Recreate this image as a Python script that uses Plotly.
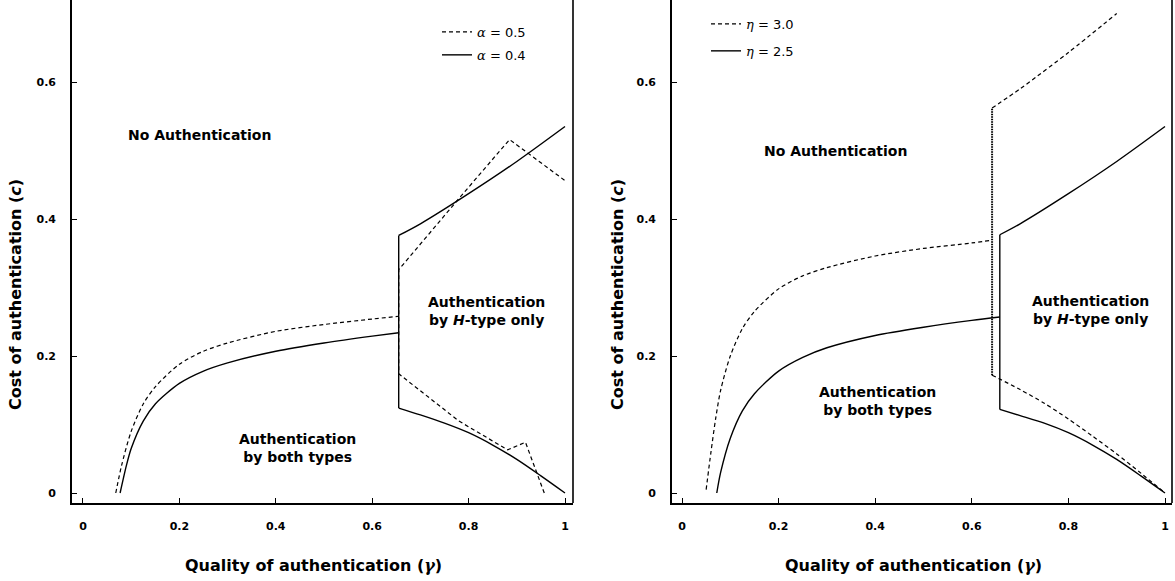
import plotly.graph_objects as go

# ---------------- data ----------------
# Left panel: threshold curves for two values of alpha
a05_low_gamma = [0.068, 0.08, 0.10, 0.125, 0.15, 0.20, 0.25, 0.30, 0.40, 0.50, 0.60, 0.655]
a05_low_cost = [0.0, 0.04, 0.09, 0.13, 0.155, 0.188, 0.207, 0.219, 0.236, 0.246, 0.254, 0.258]
a05_branch_gamma = [0.957, 0.918, 0.881, 0.78, 0.655, 0.655, 0.78, 0.885, 1.0]
a05_branch_cost = [0.0, 0.074, 0.063, 0.105, 0.174, 0.326, 0.430, 0.516, 0.456]

a04_low_gamma = [0.077, 0.09, 0.10, 0.125, 0.15, 0.20, 0.25, 0.30, 0.40, 0.50, 0.60, 0.655]
a04_low_cost = [0.0, 0.04, 0.065, 0.105, 0.13, 0.16, 0.178, 0.19, 0.207, 0.219, 0.229, 0.234]
a04_lower_gamma = [0.655, 0.70, 0.75, 0.80, 0.85, 0.90, 0.95, 1.0]
a04_lower_cost = [0.124, 0.114, 0.102, 0.088, 0.070, 0.049, 0.025, 0.0]
a04_upper_gamma = [0.655, 0.70, 0.80, 0.90, 1.0]
a04_upper_cost = [0.376, 0.393, 0.437, 0.484, 0.535]

# Right panel: threshold curves for two values of eta
e30_low_gamma = [0.05, 0.06, 0.07, 0.08, 0.10, 0.125, 0.15, 0.20, 0.25, 0.30, 0.40, 0.50, 0.60, 0.642]
e30_low_cost = [0.005, 0.06, 0.11, 0.15, 0.20, 0.24, 0.265, 0.298, 0.317, 0.329, 0.346, 0.357, 0.365, 0.369]
e30_lower_gamma = [0.642, 0.70, 0.75, 0.80, 0.85, 0.90, 0.95, 1.0]
e30_lower_cost = [0.172, 0.151, 0.131, 0.108, 0.083, 0.057, 0.029, 0.0]
e30_upper_gamma = [0.642, 0.70, 0.725, 0.80, 0.90]
e30_upper_cost = [0.562, 0.590, 0.603, 0.643, 0.700]
e30_switch_gamma = [0.642, 0.642]
e30_switch_cost = [0.172, 0.562]

e25_low_gamma = [0.072, 0.08, 0.10, 0.125, 0.15, 0.20, 0.25, 0.30, 0.40, 0.50, 0.60, 0.658]
e25_low_cost = [0.0, 0.03, 0.08, 0.12, 0.145, 0.178, 0.198, 0.212, 0.230, 0.242, 0.252, 0.257]
e25_lower_gamma = [0.658, 0.70, 0.75, 0.80, 0.85, 0.90, 0.95, 1.0]
e25_lower_cost = [0.122, 0.113, 0.102, 0.088, 0.070, 0.049, 0.025, 0.0]
e25_upper_gamma = [0.658, 0.70, 0.80, 0.90, 1.0]
e25_upper_cost = [0.377, 0.393, 0.437, 0.484, 0.535]

tick_vals_x = [0, 0.2, 0.4, 0.6, 0.8, 1]
tick_text_x = ["0", "0.2", "0.4", "0.6", "0.8", "1"]
tick_vals_y = [0, 0.2, 0.4, 0.6]
tick_text_y = ["0", "0.2", "0.4", "0.6"]

BLACK = "#000000"
DASH = "4px,3px"
SOLID_W = 1.4
DASH_W = 1.2

fig = go.Figure()


def add_series(segments, name, group, legend, axes, line):
    """segments: list of (gamma, cost, smooth) tuples drawn as one legend entry."""
    for i, (gx, cy, smooth) in enumerate(segments):
        fig.add_trace(go.Scatter(
            x=gx, y=cy, mode="lines", name=name,
            showlegend=(i == 0), legend=legend, legendgroup=group,
            line=dict(color=BLACK, shape="spline" if smooth else "linear",
                      smoothing=0.8, **line),
            xaxis=axes[0], yaxis=axes[1], hoverinfo="skip"))


def greek(sym, value):
    return ("<span style='font-family:DejaVu Serif'><i>%s</i></span> = %s"
            % (sym, value))


# ---- left panel ----
add_series([(a05_low_gamma, a05_low_cost, True),
            (a05_branch_gamma, a05_branch_cost, False)],
           greek("α", "0.5"), "a05", "legend", ("x", "y"),
           dict(width=DASH_W, dash=DASH))
add_series([(a04_low_gamma, a04_low_cost, True),
            (a04_lower_gamma, a04_lower_cost, True),
            ([a04_lower_gamma[0], a04_upper_gamma[0]],
             [a04_lower_cost[0], a04_upper_cost[0]], False),
            (a04_upper_gamma, a04_upper_cost, True)],
           greek("α", "0.4"), "a04", "legend", ("x", "y"),
           dict(width=SOLID_W))

# ---- right panel ----
add_series([(e30_low_gamma, e30_low_cost, True),
            (e30_lower_gamma, e30_lower_cost, True),
            (e30_upper_gamma, e30_upper_cost, True)],
           greek("η", "3.0"), "e30", "legend2", ("x2", "y2"),
           dict(width=DASH_W, dash=DASH))
fig.add_trace(go.Scatter(x=e30_switch_gamma, y=e30_switch_cost, mode="lines",
                         showlegend=False, legendgroup="e30", legend="legend2",
                         line=dict(color=BLACK, width=2, dash="1.5px,1px"),
                         xaxis="x2", yaxis="y2", hoverinfo="skip"))
add_series([(e25_low_gamma, e25_low_cost, True),
            (e25_lower_gamma, e25_lower_cost, True),
            ([e25_lower_gamma[0], e25_upper_gamma[0]],
             [e25_lower_cost[0], e25_upper_cost[0]], False),
            (e25_upper_gamma, e25_upper_cost, True)],
           greek("η", "2.5"), "e25", "legend2", ("x2", "y2"),
           dict(width=SOLID_W))

FONT = "DejaVu Sans"
TICK_FONT = dict(family=FONT, size=11, color=BLACK, weight="bold")


def xaxis_cfg(domain, anchor, rng):
    return dict(domain=domain, anchor=anchor, range=rng,
                tickvals=tick_vals_x, ticktext=tick_text_x,
                ticks="inside", ticklen=5, tickwidth=1, tickcolor=BLACK,
                showline=True, linecolor=BLACK, linewidth=1.6,
                showgrid=False, zeroline=False, tickfont=TICK_FONT,
                ticklabelstandoff=12, fixedrange=True)


def yaxis_cfg(anchor, rng):
    return dict(domain=[0, 1], anchor=anchor, range=rng,
                tickvals=tick_vals_y, ticktext=tick_text_y,
                ticks="inside", ticklen=5, tickwidth=1, tickcolor=BLACK,
                showline=True, linecolor=BLACK, linewidth=1.6,
                showgrid=False, zeroline=False, tickfont=TICK_FONT,
                ticklabelstandoff=12, fixedrange=True)


W, H = 1175, 581
LEGEND_FONT = dict(family=FONT, size=13, color=BLACK)
fig.update_layout(
    width=W, height=H,
    margin=dict(l=0, r=0, t=0, b=78),
    paper_bgcolor="white", plot_bgcolor="white",
    xaxis=xaxis_cfg([72 / W, 573 / W], "y", [-0.0228, 1.0166]),
    yaxis=yaxis_cfg("x", [-0.0146, 0.7197]),
    xaxis2=xaxis_cfg([672 / W, 1172 / W], "y2", [-0.0207, 1.0145]),
    yaxis2=yaxis_cfg("x2", [-0.0146, 0.7197]),
    legend=dict(x=437 / W, y=1 - 17 / 503, xanchor="left", yanchor="top",
                bgcolor="rgba(0,0,0,0)", tracegroupgap=3, font=LEGEND_FONT),
    legend2=dict(x=706 / W, y=1 - 9 / 503, xanchor="left", yanchor="top",
                 bgcolor="rgba(0,0,0,0)", tracegroupgap=7, font=LEGEND_FONT),
    showlegend=True,
)

# right-hand frame line of each panel
for xr, yr in (("x domain", "y domain"), ("x2 domain", "y2 domain")):
    fig.add_shape(type="line", xref=xr, yref=yr, x0=1, x1=1, y0=0, y1=1,
                  line=dict(color=BLACK, width=1.6))

LABEL_FONT = dict(family=FONT, size=14, color=BLACK, weight="bold")
region_labels = [
    ("x", "y", 0.242, 0.523, "No Authentication"),
    ("x", "y", 0.837, 0.266, "Authentication<br>by <i>H</i>-type only"),
    ("x", "y", 0.446, 0.066, "Authentication<br>by both types"),
    ("x2", "y2", 0.317, 0.500, "No Authentication"),
    ("x2", "y2", 0.845, 0.267, "Authentication<br>by <i>H</i>-type only"),
    ("x2", "y2", 0.404, 0.134, "Authentication<br>by both types"),
]
for xr, yr, gx, cy, txt in region_labels:
    fig.add_annotation(xref=xr, yref=yr, x=gx, y=cy, text=txt, showarrow=False,
                       font=LABEL_FONT, align="center")

TITLE_FONT = dict(family=FONT, size=16, color=BLACK, weight="bold")
X_TITLE = "Quality of authentication (<span style='font-family:DejaVu Serif'><i>γ</i></span>)"
Y_TITLE = "Cost of authentication (<i>c</i>)"
axis_titles = [
    (313 / W, -62 / 503, X_TITLE, 0),
    (913 / W, -62 / 503, X_TITLE, 0),
    (15 / W, 1 - 295 / 503, Y_TITLE, -90),
    (617 / W, 1 - 295 / 503, Y_TITLE, -90),
]
for px, py, txt, ang in axis_titles:
    fig.add_annotation(xref="paper", yref="paper", x=px, y=py, text=txt,
                       showarrow=False, textangle=ang, font=TITLE_FONT,
                       xanchor="center", yanchor="middle")

fig.write_html("out.html")
